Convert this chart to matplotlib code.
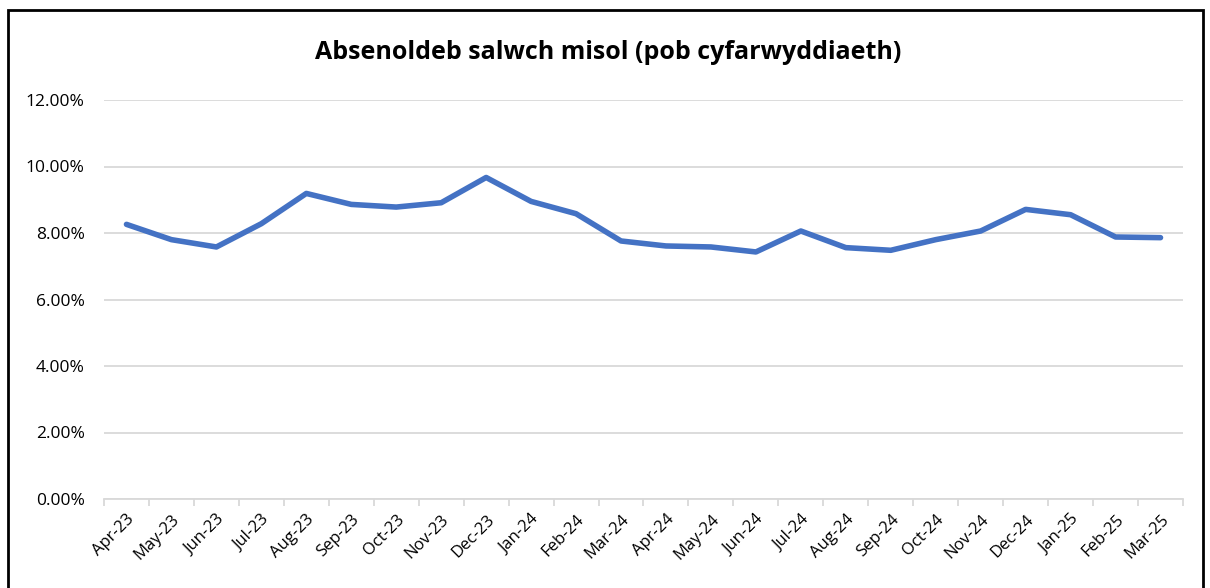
import numpy as np
import matplotlib.pyplot as plt
from matplotlib.patches import Rectangle
from matplotlib.ticker import PercentFormatter, FixedLocator, NullFormatter

plt.rcParams['font.family'] = ['Open Sans', 'DejaVu Sans']

# Data
months = ['Apr-23', 'May-23', 'Jun-23', 'Jul-23', 'Aug-23', 'Sep-23', 'Oct-23', 'Nov-23',
          'Dec-23', 'Jan-24', 'Feb-24', 'Mar-24', 'Apr-24', 'May-24', 'Jun-24', 'Jul-24',
          'Aug-24', 'Sep-24', 'Oct-24', 'Nov-24', 'Dec-24', 'Jan-25', 'Feb-25', 'Mar-25']
absence_pct = [8.26, 7.80, 7.58, 8.28, 9.19, 8.86, 8.78, 8.91,
               9.67, 8.95, 8.58, 7.76, 7.61, 7.58, 7.43, 8.06,
               7.56, 7.48, 7.80, 8.06, 8.71, 8.55, 7.88, 7.86]
yticks = [0, 2, 4, 6, 8, 10, 12]

fig = plt.figure(figsize=(12.1, 5.88), dpi=100)
ax = fig.add_axes([104 / 1210, 89 / 588, 1079 / 1210, 399 / 588])

x = np.arange(len(months))
ax.plot(x, absence_pct, color='#4472C4', linewidth=4, solid_capstyle='round',
        solid_joinstyle='round', zorder=3)

ax.set_xlim(-0.5, len(months) - 0.5)
ax.set_ylim(0, 12)
ax.set_yticks(yticks)
ax.yaxis.set_major_formatter(PercentFormatter(decimals=2))
ax.grid(axis='y', color='#d9d9d9', linewidth=1.3)
ax.set_axisbelow(True)

ax.set_xticks(x)
ax.set_xticklabels(months, rotation=45, ha='right', rotation_mode='anchor', fontsize=12)
ax.tick_params(axis='x', which='major', length=0, pad=9)
ax.xaxis.set_minor_locator(FixedLocator(np.arange(-0.5, len(months), 1)))
ax.xaxis.set_minor_formatter(NullFormatter())
ax.tick_params(axis='x', which='minor', length=5, color='#d9d9d9', width=1.3)
ax.tick_params(axis='y', length=0, labelsize=12.5, pad=14)

for s in ['top', 'right', 'left']:
    ax.spines[s].set_visible(False)
ax.spines['bottom'].set_color('#d9d9d9')
ax.spines['bottom'].set_linewidth(1.3)

fig.text(0.503, 0.911, 'Absenoldeb salwch misol (pob cyfarwyddiaeth)',
         ha='center', va='center', fontsize=18, fontweight='bold')

fig.patches.append(Rectangle((8 / 1210, -0.05), 1195 / 1210, 1.033, transform=fig.transFigure,
                             fill=False, edgecolor='black', linewidth=2))

fig.savefig('out.png', dpi=100)
